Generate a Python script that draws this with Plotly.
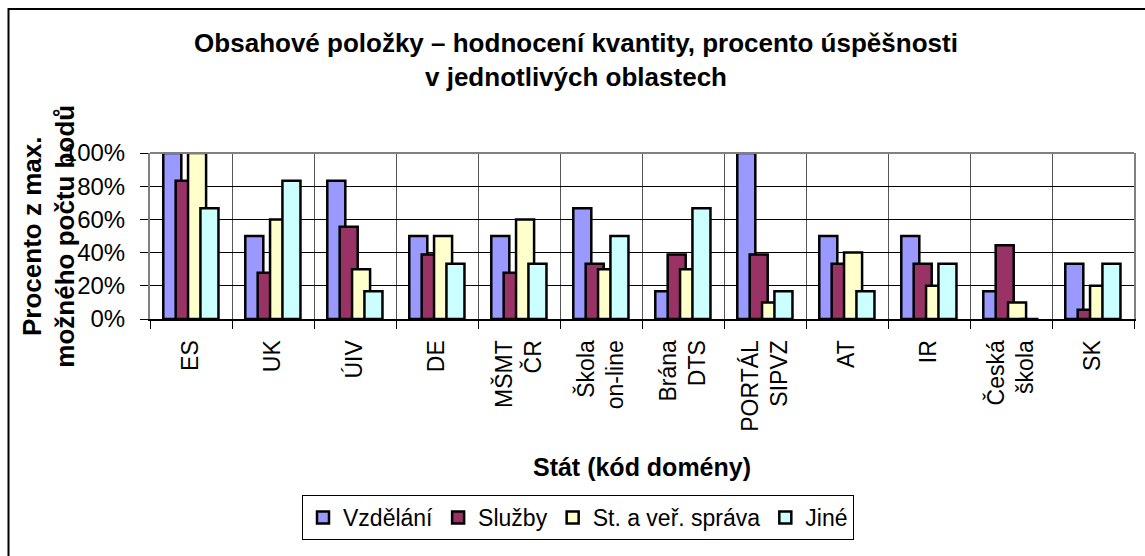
import plotly.graph_objects as go

# Categories (domain codes / portals) and the four content areas, as fractions of max points
categories = ["ES", "UK", "ÚIV", "DE", "MŠMT<br>ČR", "Škola<br>on-line", "Brána<br>DTS",
              "PORTÁL<br>SIPVZ", "AT", "IR", "Česká<br>škola", "SK"]

vzdelani = [1.000, 0.500, 0.833, 0.500, 0.500, 0.667, 0.167, 1.000, 0.500, 0.500, 0.167, 0.333]
sluzby = [0.833, 0.278, 0.556, 0.389, 0.278, 0.333, 0.389, 0.389, 0.333, 0.333, 0.444, 0.056]
sprava = [1.000, 0.600, 0.300, 0.500, 0.600, 0.300, 0.300, 0.100, 0.400, 0.200, 0.100, 0.200]
jine = [0.667, 0.833, 0.167, 0.333, 0.333, 0.500, 0.667, 0.167, 0.167, 0.333, 0.000, 0.333]

series_names = ["Vzdělání", "Služby", "St. a veř. správa", "Jiné"]
series_values = [vzdelani, sluzby, sprava, jine]
series_colors = ["#9999FF", "#993366", "#FFFFCC", "#CCFFFF"]

y_ticks = [0, 0.2, 0.4, 0.6, 0.8, 1.0]

FONT = "Liberation Sans, Arial, sans-serif"

# Overlapping clustered bars: each bar 0.22 of a category, shifted by 0.151
bar_width = 0.22
first_offset = -0.338
step = 0.151

fig = go.Figure()
for i, (name, vals, col) in enumerate(zip(series_names, series_values, series_colors)):
    fig.add_trace(go.Bar(
        x=categories, y=vals, name=name,
        width=bar_width, offset=first_offset + i * step,
        marker=dict(color=col, line=dict(color="black", width=2.5)),
    ))

W, H = 1145, 556
ML, MR, MT, MB = 150, 11, 153, 237
plot_w = W - ML - MR
plot_h = H - MT - MB


def px_x(x):
    return (x - ML) / plot_w


def px_y(y):
    return (H - MB - y) / plot_h


fig.update_layout(
    width=W, height=H,
    margin=dict(l=ML, r=MR, t=MT, b=MB, autoexpand=False),
    barmode="overlay",
    plot_bgcolor="white", paper_bgcolor="white",
    font=dict(family=FONT, color="black", size=23),
    title=dict(
        text="Obsahové položky – hodnocení kvantity, procento úspěšnosti<br>v jednotlivých oblastech",
        font=dict(family=FONT, size=26, weight="bold", color="black"),
        xref="paper", x=px_x(576), xanchor="center",
        yref="container", y=1 - 52 / H, yanchor="top",
    ),
    xaxis=dict(
        type="category", tickson="boundaries",
        tickangle=-90, ticks="outside", ticklen=8, tickcolor="black",
        ticklabelstandoff=10,
        tickfont=dict(family=FONT, size=23),
        showgrid=True, gridcolor="#555555", gridwidth=1,
        showline=True, linecolor="black", linewidth=2,
        title=dict(text="Stát (kód domény)", standoff=28,
                   font=dict(family=FONT, size=25, weight="bold")),
        automargin=False,
    ),
    yaxis=dict(
        range=[0, 1], tickvals=y_ticks, tickformat=".0%",
        ticks="outside", ticklen=8, tickcolor="black",
        ticklabelstandoff=10,
        tickfont=dict(family=FONT, size=24),
        showgrid=True, gridcolor="black", gridwidth=1,
        showline=True, linecolor="#808080", linewidth=2, mirror=True,
        zeroline=False, automargin=False,
    ),
    legend=dict(
        orientation="h", xref="paper", x=px_x(578), xanchor="center",
        yref="paper", y=px_y(495), yanchor="top",
        bordercolor="black", borderwidth=1, bgcolor="white",
        font=dict(family=FONT, size=23),
        itemwidth=30, traceorder="normal",
    ),
    showlegend=True,
    annotations=[dict(
        text="Procento z max.<br>možného počtu bodů",
        textangle=-90, showarrow=False,
        xref="paper", yref="paper", x=px_x(48.7), y=0.5,
        xanchor="center", yanchor="middle",
        font=dict(family=FONT, size=26, weight="bold"),
    )],
    shapes=[
        # top edge of the plot frame
        dict(type="line", xref="paper", yref="paper", x0=0, x1=1, y0=1, y1=1,
             line=dict(color="#808080", width=2)),
        # chart area border
        dict(type="rect", xref="paper", yref="paper",
             x0=px_x(8.5), x1=px_x(1152), y0=px_y(9), y1=px_y(565),
             line=dict(color="black", width=2), layer="above"),
    ],
)

fig.write_html("out.html")
